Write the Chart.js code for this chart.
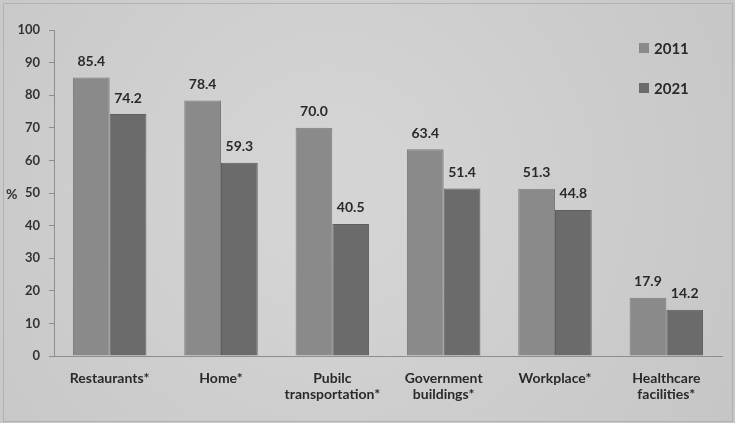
<!DOCTYPE html>
<html>
<head>
<meta charset="utf-8">
<script src="https://cdn.jsdelivr.net/npm/chart.js@4/dist/chart.umd.min.js"></script>
<style>
  html, body { margin: 0; padding: 0; background: #cecece; }
  #wrap { width: 735px; height: 423px; position: relative; }
</style>
</head>
<body>
<div id="wrap"><canvas id="c" width="735" height="423"></canvas></div>
<script>
// Places where people were exposed to smoke, share of respondents (%)
const categories = [
  'Restaurants*',
  'Home*',
  ['Pubilc', 'transportation*'],
  ['Government', 'buildings*'],
  'Workplace*',
  ['Healthcare', 'facilities*']
];
const values2011 = [85.4, 78.4, 70.0, 63.4, 51.3, 17.9];
const values2021 = [74.2, 59.3, 40.5, 51.4, 44.8, 14.2];
const seriesNames = ['2011', '2021'];
const yTicks = [0, 10, 20, 30, 40, 50, 60, 70, 80, 90, 100];

const FONT = 'Lato, "Open Sans", "DejaVu Sans", sans-serif';
const colors = ['#8a8a8a', '#6b6b6b'];

// Page background: soft vignette with a thin frame
const backdrop = {
  id: 'backdrop',
  beforeDraw(chart) {
    const ctx = chart.ctx;
    const w = chart.width, h = chart.height;
    ctx.save();
    const g = ctx.createRadialGradient(w * 0.45, h * 0.45, 60, w * 0.45, h * 0.45, w * 0.62);
    g.addColorStop(0, '#d4d4d4');
    g.addColorStop(1, '#c6c6c6');
    ctx.fillStyle = g;
    ctx.fillRect(0, 0, w, h);
    ctx.strokeStyle = '#b2b2b2';
    ctx.lineWidth = 1;
    ctx.strokeRect(3.5, 3.5, w - 6, h - 5);
    ctx.restore();
  }
};

// Value labels above each bar, the "%" axis caption and the legend
const annotations = {
  id: 'annotations',
  afterDatasetsDraw(chart) {
    const ctx = chart.ctx;
    ctx.save();
    ctx.font = 'bold 14px ' + FONT;
    ctx.fillStyle = '#2a2a2a';
    ctx.textAlign = 'center';
    ctx.textBaseline = 'bottom';
    chart.data.datasets.forEach((ds, di) => {
      const meta = chart.getDatasetMeta(di);
      meta.data.forEach((bar, i) => {
        ctx.fillText(ds.data[i].toFixed(1), bar.x, bar.y - 9);
      });
    });

    const y = chart.scales.y;
    ctx.font = 'bold 14px ' + FONT;
    ctx.fillStyle = '#333333';
    ctx.textAlign = 'left';
    ctx.textBaseline = 'middle';
    ctx.fillText('%', 6, y.getPixelForValue(50) + 1);

    // legend
    ctx.font = 'bold 15px ' + FONT;
    const lx = 639, ly = [48, 88];
    chart.data.datasets.forEach((ds, di) => {
      ctx.fillStyle = ds.backgroundColor;
      ctx.fillRect(lx, ly[di] - 5, 10, 10);
      ctx.fillStyle = '#2a2a2a';
      ctx.fillText(ds.label, lx + 15, ly[di] + 1);
    });
    ctx.restore();
  }
};

new Chart(document.getElementById('c'), {
  type: 'bar',
  data: {
    labels: categories,
    datasets: [
      { label: seriesNames[0], data: values2011, backgroundColor: colors[0],
        borderColor: '#7c7c7c', borderWidth: 1 },
      { label: seriesNames[1], data: values2021, backgroundColor: colors[1],
        borderColor: '#5e5e5e', borderWidth: 1 }
    ]
  },
  options: {
    responsive: false,
    animation: false,
    layout: { padding: { top: 30, right: 13, bottom: 0, left: 0 } },
    plugins: {
      legend: { display: false },
      tooltip: { enabled: false }
    },
    datasets: {
      bar: { categoryPercentage: 0.66, barPercentage: 1.0 }
    },
    scales: {
      x: {
        grid: { display: false, drawTicks: false },
        border: { display: true, color: '#8e8e8e', width: 1 },
        ticks: {
          padding: 14,
          color: '#2a2a2a',
          font: { family: FONT, size: 14, weight: 'bold', lineHeight: 1.15 },
          maxRotation: 0,
          autoSkip: false
        },
        afterFit(scale) { scale.height = 67; }
      },
      y: {
        min: 0,
        max: 100,
        afterBuildTicks(scale) { scale.ticks = yTicks.map(v => ({ value: v })); },
        grid: { drawOnChartArea: false, drawTicks: true, tickLength: 5, color: '#8e8e8e' },
        border: { display: true, color: '#8e8e8e', width: 1 },
        ticks: {
          padding: 9,
          color: '#333333',
          font: { family: FONT, size: 13, weight: 'bold' }
        },
        afterFit(scale) { scale.width = 54; }
      }
    }
  },
  plugins: [backdrop, annotations]
});
</script>
</body>
</html>
